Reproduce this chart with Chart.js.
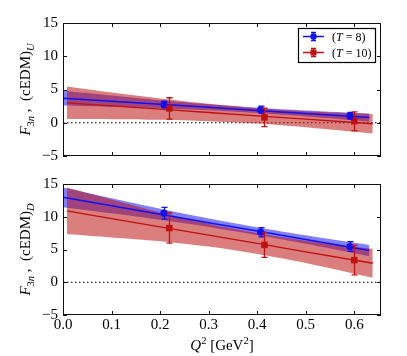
<!DOCTYPE html>
<html>
<head>
<meta charset="utf-8">
<script src="https://cdn.jsdelivr.net/npm/chart.js@4/dist/chart.umd.min.js"></script>
<style>
  body { margin: 0; background: #fff; }
  #wrap { position: relative; width: 407px; height: 356px; }
  canvas { position: absolute; left: 0; }
</style>
</head>
<body>
<div id="wrap">
  <canvas id="panelU" width="407" height="170" style="top:0"></canvas>
  <canvas id="panelD" width="407" height="186" style="top:170px"></canvas>
</div>
<script>
// x range and ticks
const xRange = [0, 0.655];
const xTicks = [0.0, 0.1, 0.2, 0.3, 0.4, 0.5, 0.6];
const yRange = [-5, 15];
const yTicks = [-5, 0, 5, 10, 15];

// data points (Q^2 slightly shifted for the two T values)
const q2T8 = [0.208, 0.407, 0.591];
const q2T10 = [0.219, 0.415, 0.600];

const fU_T8 = [2.73, 1.96, 1.05];
const errU_T8 = [0.5, 0.55, 0.5];
const fU_T10 = [2.16, 0.81, 0.23];
const errU_T10 = [1.6, 1.4, 1.4];

const fD_T8 = [10.54, 7.64, 5.46];
const errD_T8 = [0.9, 0.7, 0.75];
const fD_T10 = [8.27, 5.70, 3.38];
const errD_T10 = [2.3, 1.9, 2.25];

// fit lines and error bands
const bandX_T8 = [0, 0.1, 0.2, 0.3, 0.4, 0.5, 0.631];
const bandX_T10 = [0.008, 0.1, 0.2, 0.3, 0.4, 0.5, 0.638];

const fitU_T8 = [3.7, 3.24, 2.78, 2.32, 1.86, 1.4, 0.8];
const hiU_T8 = [4.8, 4.09, 3.38, 2.77, 2.26, 1.85, 1.4];
const loU_T8 = [2.6, 2.39, 2.18, 1.87, 1.46, 0.95, 0.2];
const fitU_T10 = [3.0, 2.54, 2.04, 1.54, 1.04, 0.54, -0.15];
const hiU_T10 = [5.45, 4.54, 3.64, 2.84, 2.19, 1.74, 1.3];
const loU_T10 = [0.55, 0.54, 0.44, 0.24, -0.11, -0.66, -1.6];

const fitD_T8 = [12.96, 11.67, 10.38, 9.1, 7.81, 6.52, 4.83];
const hiD_T8 = [14.46, 12.82, 11.23, 9.75, 8.41, 7.17, 5.68];
const loD_T8 = [11.46, 10.52, 9.53, 8.45, 7.21, 5.87, 3.98];
const fitD_T10 = [10.9, 9.73, 8.46, 7.19, 5.92, 4.65, 2.9];
const hiD_T10 = [14.45, 12.63, 10.66, 8.94, 7.52, 6.35, 5.1];
const loD_T10 = [7.35, 6.83, 6.26, 5.44, 4.32, 2.95, 0.7];

const legendLabels = ["8", "10"];

const BLUE = "#1010f0";
const RED = "#c01010";
const FONT = "'Liberation Serif', serif";

function pts(xs, ys) {
    return xs.map((x, i) => ({ x: x, y: ys[i] }));
}

// draws a row of text pieces, each {t, it, sub, sup}
function drawPieces(ctx, pieces, size, cx, cy) {
    const sm = size * 0.7;
    let w = 0;
    pieces.forEach(p => {
        ctx.font = (p.it ? "italic " : "") + (p.sub || p.sup ? sm : size) + "px " + FONT;
        p.w = ctx.measureText(p.t).width;
        w += p.w;
    });
    let x = cx - w / 2;
    ctx.textBaseline = "alphabetic";
    ctx.textAlign = "left";
    pieces.forEach(p => {
        ctx.font = (p.it ? "italic " : "") + (p.sub || p.sup ? sm : size) + "px " + FONT;
        let dy = p.sub ? size * 0.28 : (p.sup ? -size * 0.38 : 0);
        ctx.fillText(p.t, x, cy + size * 0.33 + dy);
        x += p.w;
    });
}

const panelPlugin = {
    id: "panel",
    afterDatasetsDraw(chart, args, opts) {
        const { ctx, scales: { x, y } } = chart;
        ctx.save();
        ctx.lineWidth = 1.3;
        opts.errs.forEach(e => {
            ctx.strokeStyle = e.color;
            e.x.forEach((xv, i) => {
                const px = Math.round(x.getPixelForValue(xv)) + 0.5;
                const t = y.getPixelForValue(e.y[i] + e.err[i]);
                const b = y.getPixelForValue(e.y[i] - e.err[i]);
                ctx.beginPath();
                ctx.moveTo(px, t); ctx.lineTo(px, b);
                ctx.moveTo(px - 3, t); ctx.lineTo(px + 3, t);
                ctx.moveTo(px - 3, b); ctx.lineTo(px + 3, b);
                ctx.stroke();
            });
        });
        ctx.restore();
    },
    afterDraw(chart, args, opts) {
        const { ctx, chartArea: a, scales: { x, y } } = chart;
        ctx.save();
        // frame
        ctx.strokeStyle = "#111";
        ctx.lineWidth = 1;
        ctx.strokeRect(a.left + 0.5, a.top + 0.5, a.right - a.left - 1, a.bottom - a.top - 1);
        // inner ticks on all sides
        ctx.beginPath();
        xTicks.forEach(v => {
            const px = Math.round(x.getPixelForValue(v)) + 0.5;
            ctx.moveTo(px, a.bottom); ctx.lineTo(px, a.bottom - 4);
            ctx.moveTo(px, a.top); ctx.lineTo(px, a.top + 4);
        });
        yTicks.forEach(v => {
            const py = Math.round(y.getPixelForValue(v)) + 0.5;
            ctx.moveTo(a.left, py); ctx.lineTo(a.left + 4, py);
            ctx.moveTo(a.right, py); ctx.lineTo(a.right - 4, py);
        });
        ctx.stroke();

        // y axis label
        ctx.fillStyle = "#000";
        ctx.save();
        ctx.translate(25, (a.top + a.bottom) / 2);
        ctx.rotate(-Math.PI / 2);
        drawPieces(ctx, [
            { t: "F", it: true },
            { t: "3", sub: true },
            { t: "n", sub: true, it: true },
            { t: " ,  (cEDM)" },
            { t: opts.sub, sub: true, it: true }
        ], 15, 0, 0);
        ctx.restore();

        // x axis label
        if (opts.xLabel) {
            drawPieces(ctx, [
                { t: "Q", it: true },
                { t: "2", sup: true },
                { t: " [GeV" },
                { t: "2", sup: true },
                { t: "]" }
            ], 15, (a.left + a.right) / 2, a.bottom + 30);
        }

        // legend
        if (opts.legend) {
            const bx = 298.5, by = 28.5, bw = 77, bh = 34;
            ctx.fillStyle = "#fff";
            ctx.fillRect(bx, by, bw, bh);
            ctx.strokeStyle = "#000";
            ctx.lineWidth = 1.2;
            ctx.strokeRect(bx, by, bw, bh);
            const rows = [
                { c: BLUE, style: "circle", lab: legendLabels[0], y: 36.5 },
                { c: RED, style: "rect", lab: legendLabels[1], y: 52.5 }
            ];
            rows.forEach(r => {
                ctx.strokeStyle = r.c;
                ctx.fillStyle = r.c;
                ctx.lineWidth = 1.3;
                ctx.beginPath();
                ctx.moveTo(303, r.y); ctx.lineTo(324, r.y);
                ctx.moveTo(313.5, r.y - 4); ctx.lineTo(313.5, r.y + 4);
                ctx.moveTo(311, r.y - 4); ctx.lineTo(316, r.y - 4);
                ctx.moveTo(311, r.y + 4); ctx.lineTo(316, r.y + 4);
                ctx.stroke();
                ctx.beginPath();
                if (r.style === "circle") ctx.arc(313.5, r.y, 3.2, 0, Math.PI * 2);
                else ctx.rect(310.5, r.y - 3, 6, 6);
                ctx.fill();
                ctx.fillStyle = "#000";
                ctx.textAlign = "left";
                ctx.textBaseline = "alphabetic";
                let tx = 332;
                const parts = [["(", false], ["T", true], [" = " + r.lab + ")", false]];
                parts.forEach(p => {
                    ctx.font = (p[1] ? "italic " : "") + "12px " + FONT;
                    ctx.fillText(p[0], tx, r.y + 4);
                    tx += ctx.measureText(p[0]).width;
                });
            });
        }
        ctx.restore();
    }
};

function makeDatasets(d) {
    const band = (xs, ys) => ({
        type: "line", data: pts(xs, ys), borderWidth: 0, pointRadius: 0, tension: 0.3
    });
    return [
        { type: "line", data: pts(xRange, [0, 0]), borderColor: "#000", borderWidth: 1.2,
          borderDash: [1.5, 2.5], pointRadius: 0, order: 9 },
        Object.assign(band(bandX_T8, d.lo8), { order: 8, fill: false }),
        Object.assign(band(bandX_T8, d.hi8), { order: 8, fill: "-1", backgroundColor: "rgba(0,0,255,0.5)" }),
        Object.assign(band(bandX_T10, d.lo10), { order: 7, fill: false }),
        Object.assign(band(bandX_T10, d.hi10), { order: 7, fill: "-1", backgroundColor: "rgba(190,20,20,0.55)" }),
        { type: "line", data: pts(bandX_T8, d.fit8), borderColor: BLUE, borderWidth: 1.5, pointRadius: 0, order: 5 },
        { type: "line", data: pts(bandX_T10, d.fit10), borderColor: RED, borderWidth: 1.3, pointRadius: 0, order: 4 },
        { type: "scatter", data: pts(q2T8, d.f8), pointStyle: "circle", pointRadius: 3.6,
          backgroundColor: BLUE, borderColor: BLUE, borderWidth: 0, order: 2 },
        { type: "scatter", data: pts(q2T10, d.f10), pointStyle: "rect", pointRadius: 4.6,
          backgroundColor: RED, borderColor: RED, borderWidth: 0, order: 1 }
    ];
}

function makeChart(id, d, opts) {
    return new Chart(document.getElementById(id), {
        type: "scatter",
        data: { datasets: makeDatasets(d) },
        options: {
            responsive: false,
            animation: false,
            events: [],
            layout: { padding: { top: opts.top, right: 26, left: 0, bottom: 0 } },
            scales: {
                x: {
                    type: "linear", min: xRange[0], max: xRange[1],
                    grid: { display: false, drawTicks: false },
                    border: { display: false },
                    afterBuildTicks: s => { s.ticks = xTicks.map(v => ({ value: v })); },
                    afterFit: s => { s.height = opts.xh; },
                    ticks: {
                        display: opts.xLabel, padding: 1, color: "#000",
                        font: { family: FONT, size: 15 },
                        callback: v => v.toFixed(1)
                    }
                },
                y: {
                    type: "linear", min: yRange[0], max: yRange[1],
                    grid: { display: false, drawTicks: false },
                    border: { display: false },
                    afterBuildTicks: s => { s.ticks = yTicks.map(v => ({ value: v })); },
                    afterFit: s => { s.width = 63; },
                    ticks: {
                        padding: 5, color: "#000",
                        font: { family: FONT, size: 15 },
                        callback: v => (v < 0 ? "\u2212" + Math.abs(v) : String(v))
                    }
                }
            },
            plugins: {
                legend: { display: false },
                tooltip: { enabled: false },
                panel: {
                    sub: opts.sub, legend: opts.legend, xLabel: opts.xLabel,
                    errs: [
                        { color: BLUE, x: q2T8, y: d.f8, err: d.e8 },
                        { color: RED, x: q2T10, y: d.f10, err: d.e10 }
                    ]
                }
            }
        },
        plugins: [panelPlugin]
    });
}

makeChart("panelU", {
    f8: fU_T8, e8: errU_T8, f10: fU_T10, e10: errU_T10,
    fit8: fitU_T8, hi8: hiU_T8, lo8: loU_T8,
    fit10: fitU_T10, hi10: hiU_T10, lo10: loU_T10
}, { top: 23, xh: 8, sub: "U", legend: true, xLabel: false });

makeChart("panelD", {
    f8: fD_T8, e8: errD_T8, f10: fD_T10, e10: errD_T10,
    fit8: fitD_T8, hi8: hiD_T8, lo8: loD_T8,
    fit10: fitD_T10, hi10: hiD_T10, lo10: loD_T10
}, { top: 6, xh: 41, sub: "D", legend: false, xLabel: true });
</script>
</body>
</html>
